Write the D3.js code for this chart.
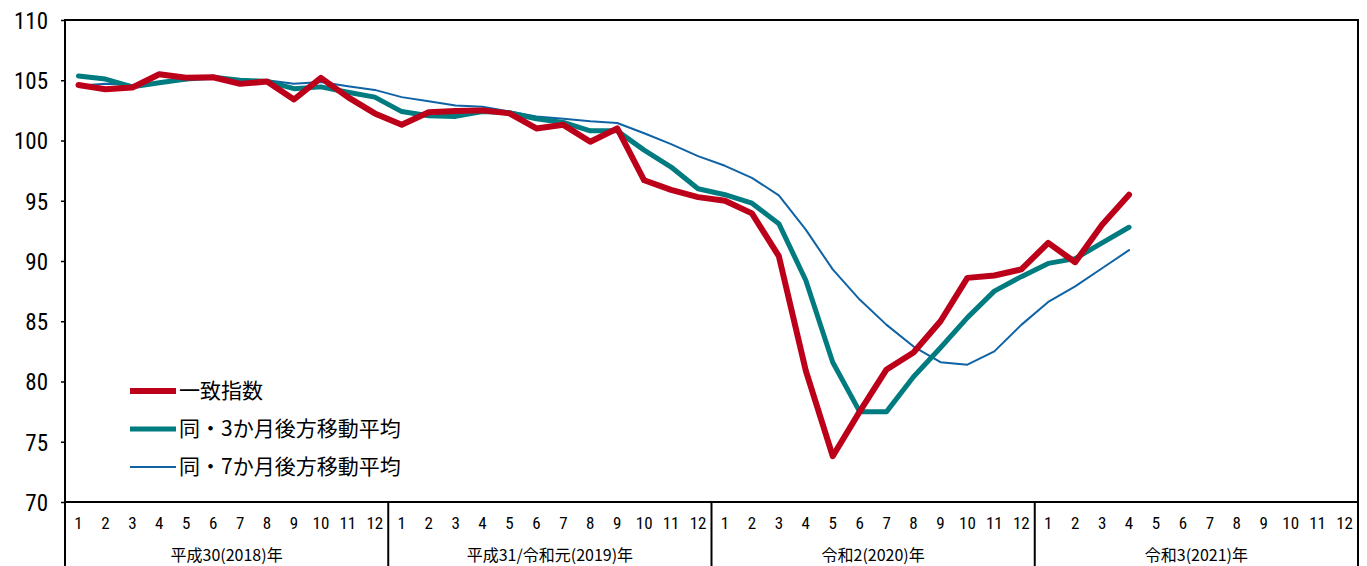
<!DOCTYPE html>
<html>
<head>
<meta charset="utf-8">
<script src="https://cdn.jsdelivr.net/npm/d3@7"></script>
<style>
  body { margin: 0; background: #fff; }
  svg { display: block; }
  .num { font-family: "Liberation Sans Narrow", "Roboto Condensed", "DejaVu Sans Condensed", sans-serif; }
  .jp { font-family: "Noto Sans CJK JP", sans-serif; }
</style>
</head>
<body>
<svg id="canvas" width="1367" height="566"></svg>
<script>
// 一致指数 2018/1 - 2021/4
const coincident = [
  104.6, 104.25, 104.4, 105.5, 105.2, 105.25, 104.7, 104.9, 103.4, 105.2, 103.6, 102.25,
  101.3, 102.35, 102.45, 102.5, 102.25, 101.0, 101.3, 99.9, 101.0, 96.7, 95.9, 95.3,
  95.0, 93.95, 90.4, 80.9, 73.8, 77.5, 81.0, 82.4, 85.0, 88.6, 88.8, 89.3,
  91.5, 89.9, 93.0, 95.5
]
// 同・3か月後方移動平均
const avg3 = [
  105.35, 105.1, 104.45, 104.8, 105.1, 105.25, 105.0, 104.9, 104.3, 104.45, 104.0, 103.6,
  102.4, 102.05, 102.0, 102.4, 102.3, 101.8, 101.5, 100.8, 100.8, 99.2, 97.8, 96.0,
  95.5, 94.8, 93.1, 88.4, 81.6, 77.5, 77.5, 80.4, 82.8, 85.3, 87.5, 88.7,
  89.8, 90.2, 91.5, 92.8
]
// 同・7か月後方移動平均
const avg7 = [
  104.55, 104.7, 104.6, 104.8, 105.0, 105.2, 105.0, 105.0, 104.7, 104.85, 104.5, 104.2,
  103.6, 103.25, 102.9, 102.8, 102.4, 102.0, 101.8, 101.6, 101.45, 100.6, 99.7, 98.7,
  97.9, 96.9, 95.45, 92.6, 89.3, 86.8, 84.7, 82.9, 81.6, 81.4, 82.5, 84.7,
  86.6, 87.9, 89.4, 90.9
]

const years = ['平成30(2018)年', '平成31/令和元(2019)年', '令和2(2020)年', '令和3(2021)年']
const monthLabels = ['1', '2', '3', '4', '5', '6', '7', '8', '9', '10', '11', '12']
const yTicks = [70, 75, 80, 85, 90, 95, 100, 105, 110]

const seriesList = [
  { name: '一致指数', values: coincident, color: '#BD0019', width: 6 },
  { name: '同・3か月後方移動平均', values: avg3, color: '#007B7F', width: 5 },
  { name: '同・7か月後方移動平均', values: avg7, color: '#0F63A5', width: 2 }
]

let canvas = d3.select('#canvas')

const plotLeft = 65, plotRight = 1358, plotTop = 20, plotBottom = 502
const nMonths = years.length * 12

let xScale = d3.scaleBand()
  .domain(d3.range(nMonths))
  .range([plotLeft, plotRight])

let yScale = d3.scaleLinear()
  .domain([70, 110])
  .range([plotBottom, plotTop])

// y axis
let yAxis = d3.axisLeft(yScale)
  .tickValues(yTicks)
  .tickSize(4)
  .tickFormat(d3.format('d'))

let yG = canvas.append('g')
  .attr('transform', 'translate(' + plotLeft + ',0)')
  .call(yAxis)
yG.select('.domain').remove()
yG.selectAll('line').attr('stroke', '#000').attr('stroke-width', 1.5)
yG.selectAll('text')
  .attr('class', 'num')
  .attr('x', -17)
  .attr('dy', '0.36em')
  .style('font-size', '23px')
  .attr('fill', '#000')

// frame
canvas.append('rect')
  .attr('x', plotLeft)
  .attr('y', plotTop)
  .attr('width', plotRight - plotLeft)
  .attr('height', plotBottom - plotTop)
  .attr('fill', 'none')
  .attr('stroke', '#000')
  .attr('stroke-width', 2)

// month labels
canvas.append('g')
  .selectAll('text')
  .data(d3.range(nMonths))
  .enter()
  .append('text')
  .attr('class', 'num')
  .attr('x', (i) => xScale(i) + xScale.bandwidth() / 2)
  .attr('y', 529)
  .attr('text-anchor', 'middle')
  .style('font-size', '17px')
  .text((i) => monthLabels[i % 12])

// year separators
canvas.append('g')
  .selectAll('line')
  .data(d3.range(years.length + 1))
  .enter()
  .append('line')
  .attr('x1', (k) => k < years.length ? xScale(k * 12) : plotRight)
  .attr('x2', (k) => k < years.length ? xScale(k * 12) : plotRight)
  .attr('y1', plotBottom)
  .attr('y2', 566)
  .attr('stroke', '#000')
  .attr('stroke-width', 2)

// year labels
canvas.append('g')
  .selectAll('text')
  .data(years)
  .enter()
  .append('text')
  .attr('class', 'jp')
  .attr('x', (d, k) => (xScale(k * 12) + (k < years.length - 1 ? xScale(k * 12 + 12) : plotRight)) / 2)
  .attr('y', 561)
  .attr('text-anchor', 'middle')
  .style('font-size', '16px')
  .text((d) => d)

// lines
let line = d3.line()
  .x((d, i) => xScale(i) + xScale.bandwidth() / 2)
  .y((d) => yScale(d))

// thin line first, thick ones on top
canvas.append('g')
  .selectAll('path')
  .data(seriesList.slice().reverse())
  .enter()
  .append('path')
  .attr('d', (s) => line(s.values))
  .attr('fill', 'none')
  .attr('stroke', (s) => s.color)
  .attr('stroke-width', (s) => s.width)
  .attr('stroke-linejoin', 'round')
  .attr('stroke-linecap', 'round')

// legend
let legend = canvas.append('g')
  .selectAll('g')
  .data(seriesList)
  .enter()
  .append('g')
  .attr('transform', (s, i) => 'translate(130,' + (391 + i * 38) + ')')

legend.append('line')
  .attr('x1', 0)
  .attr('x2', 46)
  .attr('stroke', (s) => s.color)
  .attr('stroke-width', (s) => s.width)

legend.append('text')
  .attr('class', 'jp')
  .attr('x', 49)
  .attr('dy', '0.35em')
  .style('font-size', '21px')
  .text((s) => s.name)
</script>
</body>
</html>
